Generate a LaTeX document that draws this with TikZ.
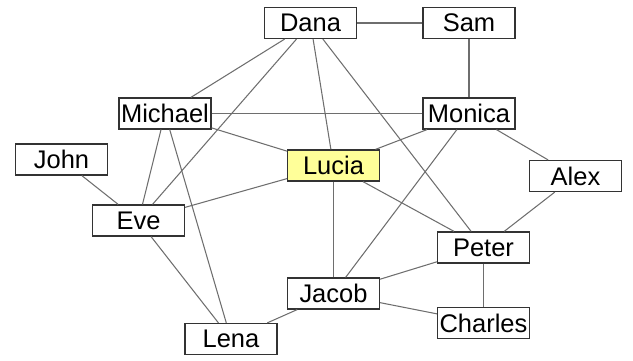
\documentclass[tikz,border=0pt]{standalone}
\usepackage{fontspec}
\setmainfont{Liberation Sans}
\usepackage{tikz}
\usetikzlibrary{positioning}
\definecolor{luciaYellow}{HTML}{FFFF99}
\definecolor{edgeGray}{HTML}{6E6E6E}
\definecolor{boxDark}{HTML}{333333}

\begin{document}
\begin{tikzpicture}[font=\fontsize{14.5}{16}\selectfont,
  person/.style={draw=boxDark, line width=0.7pt, fill=white,
                 minimum width=1.84cm, minimum height=0.62cm, inner sep=1pt},
  focus/.style={person, fill=luciaYellow},
  link/.style={edgeGray, line width=0.6pt},
]
  \useasboundingbox (0,0) rectangle (12.66,-7.22);
  % Positions
  \coordinate (cDana)    at (6.21,-0.46);
  \coordinate (cSam)     at (9.38,-0.46);
  \coordinate (cMichael) at (3.30,-2.27);
  \coordinate (cMonica)  at (9.38,-2.27);
  \coordinate (cJohn)    at (1.23,-3.19);
  \coordinate (cLucia)   at (6.67,-3.31);
  \coordinate (cAlex)    at (11.51,-3.52);
  \coordinate (cEve)     at (2.77,-4.41);
  \coordinate (cPeter)   at (9.67,-4.95);
  \coordinate (cJacob)   at (6.67,-5.87);
  \coordinate (cCharles) at (9.67,-6.46);
  \coordinate (cLena)    at (4.62,-6.78);

  % People
  \node[person] (dana)    at (cDana)    {Dana};
  \node[person] (sam)     at (cSam)     {Sam};
  \node[person] (michael) at (cMichael) {Michael};
  \node[person] (monica)  at (cMonica)  {Monica};
  \node[person] (john)    at (cJohn)    {John};
  \node[focus]  (lucia)   at (cLucia)   {Lucia};
  \node[person] (alex)    at (cAlex)    {Alex};
  \node[person] (eve)     at (cEve)     {Eve};
  \node[person] (peter)   at (cPeter)   {Peter};
  \node[person] (jacob)   at (cJacob)   {Jacob};
  \node[person] (charles) at (cCharles) {Charles};
  \node[person] (lena)    at (cLena)    {Lena};

  % Links
  \draw[link] (dana) -- (sam);
  \draw[link] (dana) -- (michael);
  \draw[link] (dana) -- (eve);
  \draw[link] (dana) -- (lucia);
  \draw[link] (dana) -- (peter);
  \draw[link] (sam) -- (monica);
  \draw[link] (michael) -- (monica);
  \draw[link] (michael) -- (lucia);
  \draw[link] (michael) -- (eve);
  \draw[link] (michael) -- (lena);
  \draw[link] (monica) -- (lucia);
  \draw[link] (monica) -- (alex);
  \draw[link] (monica) -- (jacob);
  \draw[link] (john) -- (eve);
  \draw[link] (lucia) -- (eve);
  \draw[link] (lucia) -- (jacob);
  \draw[link] (lucia) -- (peter);
  \draw[link] (alex) -- (peter);
  \draw[link] (peter) -- (jacob);
  \draw[link] (peter) -- (charles);
  \draw[link] (jacob) -- (charles);
  \draw[link] (jacob) -- (lena);
  \draw[link] (eve) -- (lena);
\end{tikzpicture}
\end{document}
